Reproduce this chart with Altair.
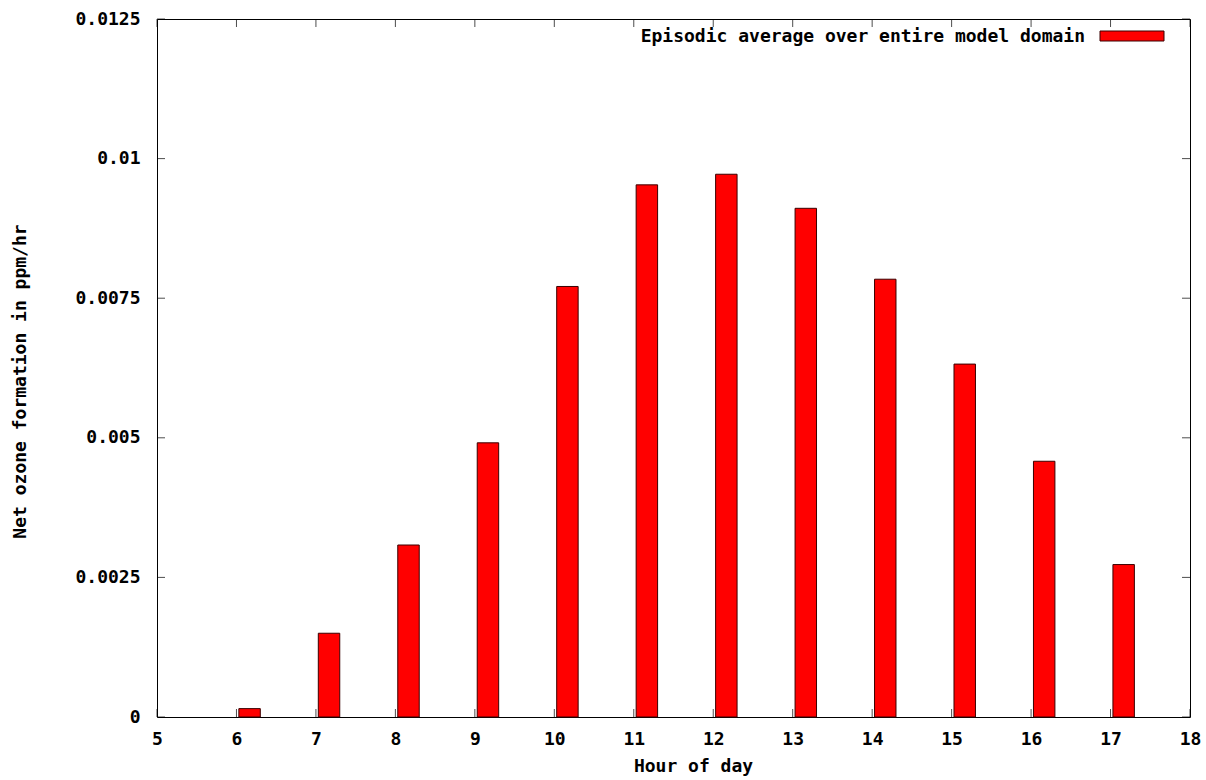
import altair as alt
import pandas as pd

hours = [6, 7, 8, 9, 10, 11, 12, 13, 14, 15, 16, 17]
values = [0.00015, 0.0015, 0.00308, 0.00491, 0.00771, 0.00953,
          0.00972, 0.00911, 0.00784, 0.00632, 0.00458, 0.00273]
x_ticks = [5, 6, 7, 8, 9, 10, 11, 12, 13, 14, 15, 16, 17, 18]
y_ticks = [0, 0.0025, 0.005, 0.0075, 0.01, 0.0125]
legend_label = "Episodic average over entire model domain"
x_title = "Hour of day"
y_title = "Net ozone formation in ppm/hr"

FONT = "DejaVu Sans Mono"
FS = 18

bars_df = pd.DataFrame({"hour": hours, "value": values})
xt_df = pd.DataFrame({"t": x_ticks})
yt_df = pd.DataFrame({"t": y_ticks})

xscale = alt.Scale(domain=[5, 18], nice=False, zero=False)
yscale = alt.Scale(domain=[0, 0.0125], nice=False)

xaxis = alt.Axis(values=x_ticks, format="d", ticks=False, domain=False, grid=False,
                 labelFont=FONT, labelFontSize=FS, labelFontWeight="bold", labelColor="black",
                 labelPadding=13, labelFlush=False,
                 title=x_title, titleFont=FONT, titleFontSize=FS, titleFontWeight="bold",
                 titleColor="black", titleX=536, titleY=49, titleBaseline="middle",
                 titleAnchor="middle")
yaxis = alt.Axis(values=y_ticks, format="~g", ticks=False, domain=False, grid=False,
                 labelFont=FONT, labelFontSize=FS, labelFontWeight="bold", labelColor="black",
                 labelPadding=17, labelFlush=False,
                 title=y_title, titleFont=FONT, titleFontSize=FS, titleFontWeight="bold",
                 titleColor="black", titleX=-137, titleY=362, titleBaseline="middle",
                 titleAlign="center", titleAngle=270)

bars = alt.Chart(bars_df).transform_calculate(
    x1="datum.hour + 0.03", x2="datum.hour + 0.30"
).mark_rect(fill="#ff0000", stroke="#3a0000", strokeWidth=1).encode(
    x=alt.X("x1:Q", scale=xscale, axis=xaxis),
    x2="x2:Q",
    y=alt.Y("value:Q", scale=yscale, axis=yaxis),
    y2=alt.datum(0),
)

tick_style = dict(color="black", thickness=1, size=8)
bottom_ticks = alt.Chart(xt_df).mark_tick(orient="vertical", yOffset=-4, **tick_style).encode(
    x=alt.X("t:Q", scale=xscale), y=alt.datum(0, scale=yscale))
top_ticks = alt.Chart(xt_df).mark_tick(orient="vertical", yOffset=4, **tick_style).encode(
    x=alt.X("t:Q", scale=xscale), y=alt.datum(0.0125, scale=yscale))
left_ticks = alt.Chart(yt_df).mark_tick(orient="horizontal", xOffset=4, **tick_style).encode(
    y=alt.Y("t:Q", scale=yscale), x=alt.datum(5, scale=xscale))
right_ticks = alt.Chart(yt_df).mark_tick(orient="horizontal", xOffset=-4, **tick_style).encode(
    y=alt.Y("t:Q", scale=yscale), x=alt.datum(18, scale=xscale))

leg_df = pd.DataFrame({"label": [legend_label]})
leg_text = alt.Chart(leg_df).mark_text(
    font=FONT, fontSize=FS, fontWeight="bold", color="black", align="right", baseline="middle"
).encode(x=alt.value(928), y=alt.value(18), text="label:N")
leg_swatch = alt.Chart(leg_df).mark_rect(fill="#ff0000", stroke="#3a0000", strokeWidth=1).encode(
    x=alt.value(943), x2=alt.value(1007), y=alt.value(12), y2=alt.value(22))

chart = alt.layer(
    bars, bottom_ticks, top_ticks, left_ticks, right_ticks, leg_text, leg_swatch
).properties(
    width=1033, height=698,
    autosize=alt.AutoSizeParams(type="none"),
    padding={"left": 157, "top": 19, "right": 16, "bottom": 63},
    background="white",
).configure_view(stroke="black", strokeWidth=1)

chart.save("out.html", embed_options={"renderer": "svg", "actions": False})
